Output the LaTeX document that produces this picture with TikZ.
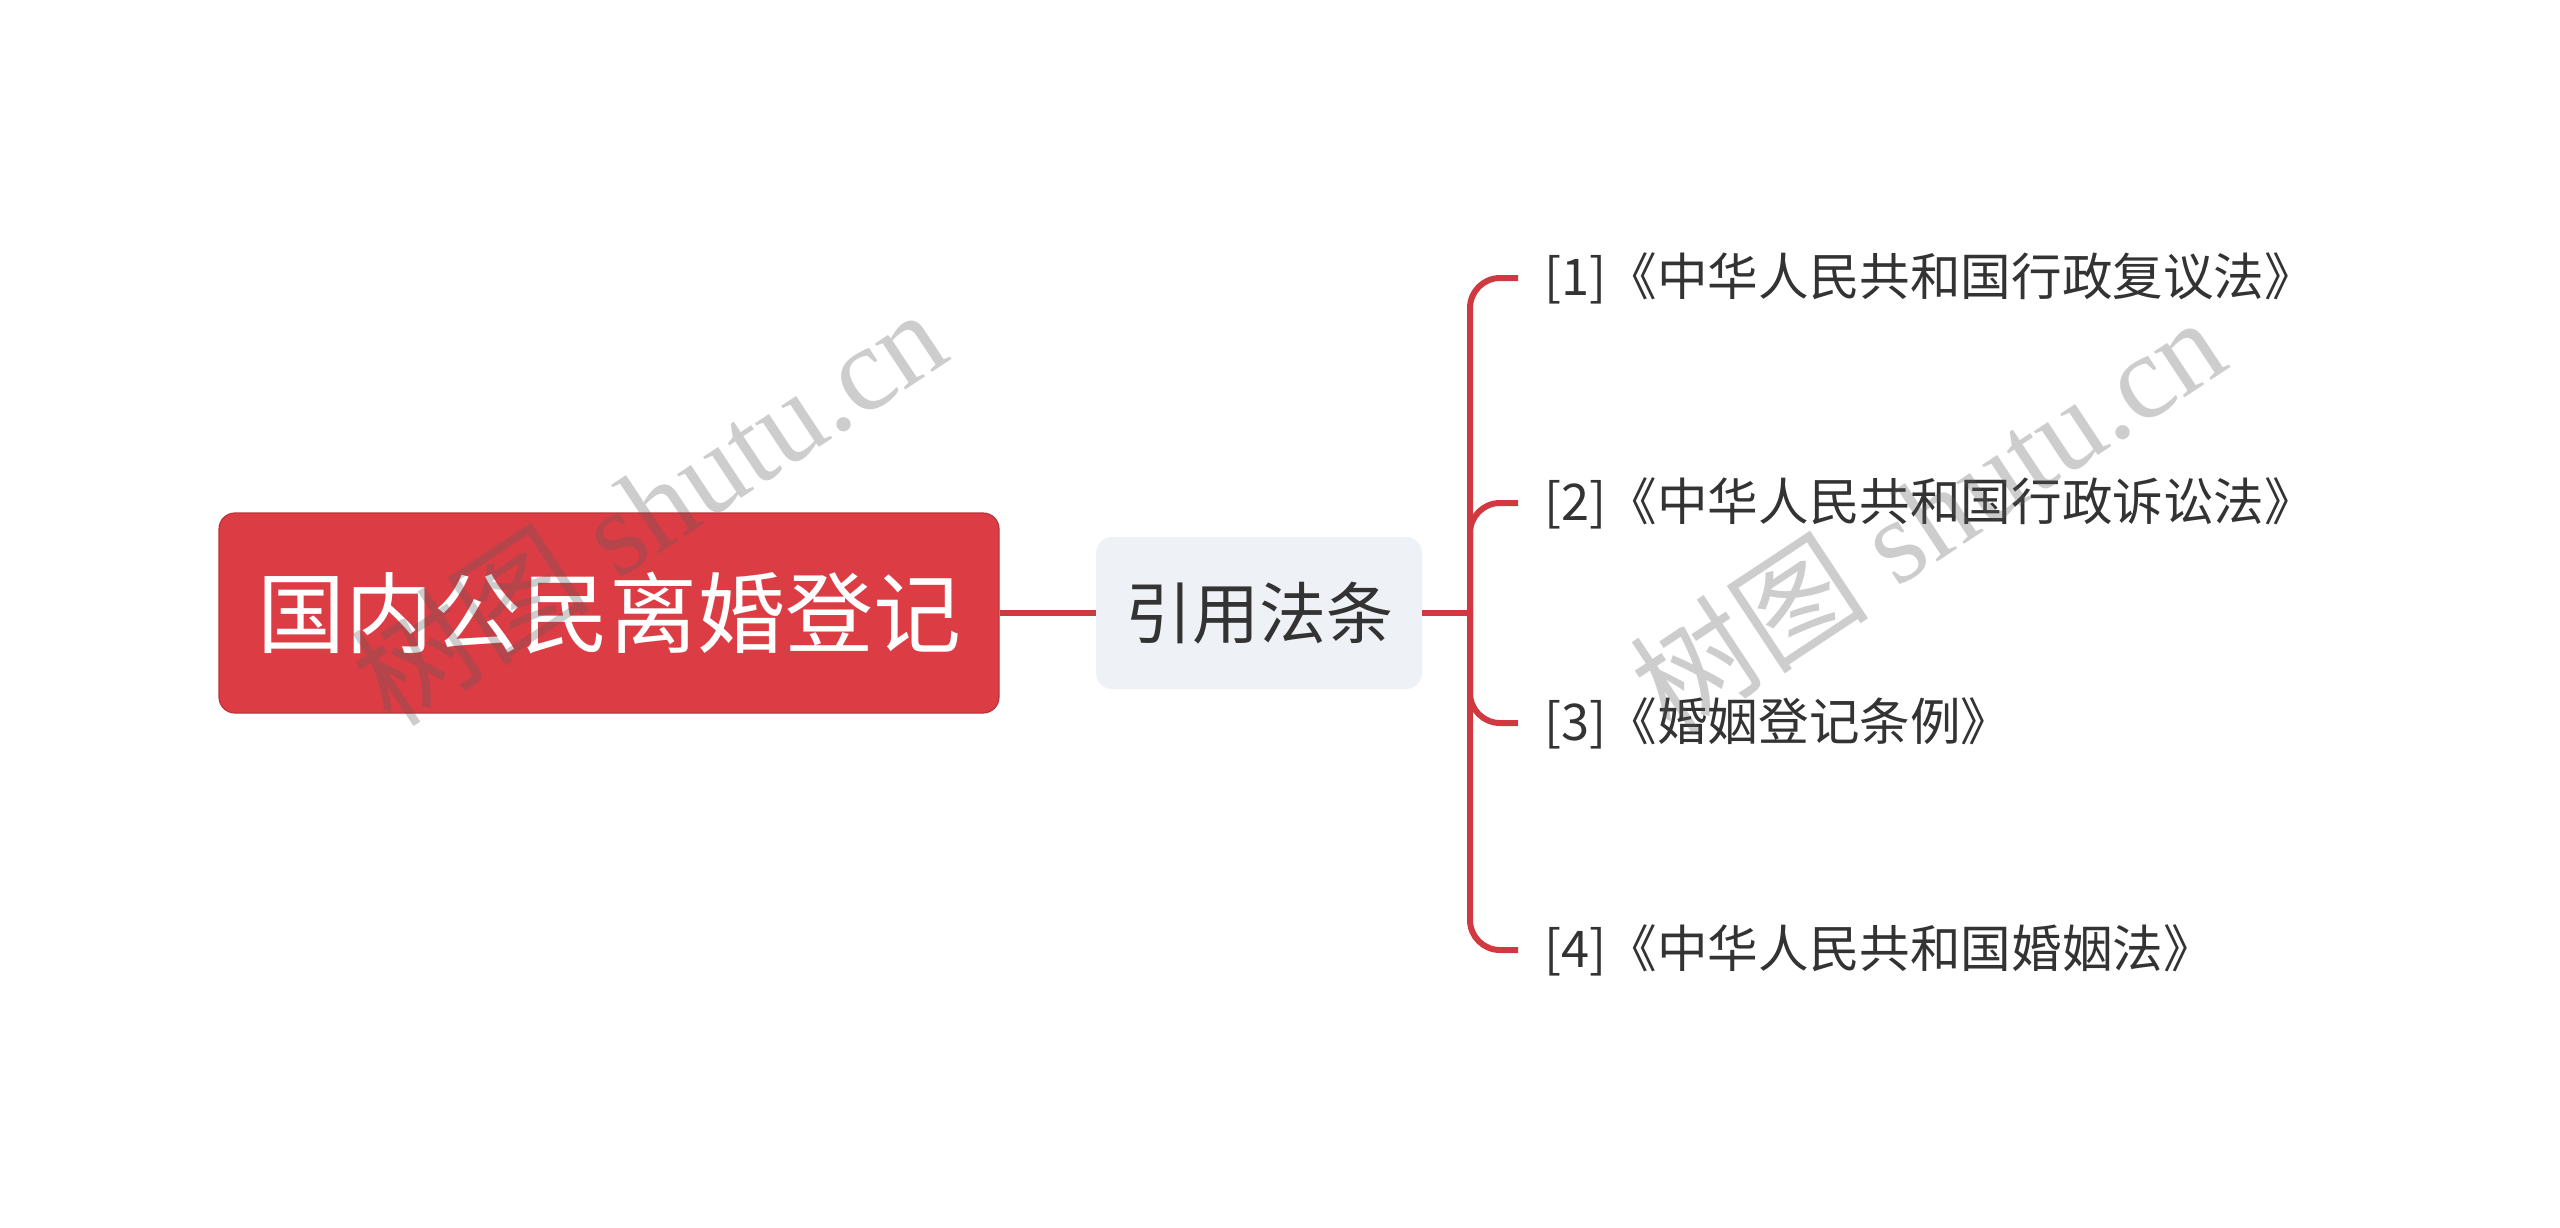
\documentclass[tikz,border=0pt]{standalone}
\usepackage{fontspec}
\setmainfont{Noto Sans CJK SC}
\newfontfamily\wmfont{Liberation Serif}
\usetikzlibrary{positioning}
\definecolor{rootred}{RGB}{220,60,68}
\definecolor{linkred}{RGB}{208,57,64}
\definecolor{midgray}{RGB}{238,241,245}
\definecolor{txtgray}{RGB}{51,51,51}
\definecolor{wmgray}{RGB}{90,90,90}

\begin{document}
\begin{tikzpicture}[x=0.5pt,y=-0.5pt,
    rootbox/.style={rectangle, rounded corners=8pt, fill=rootred, draw=rootred!85!black,
        line width=0.6pt, text=white, font=\fontsize{44}{52}\selectfont,
        minimum width=390pt, minimum height=100pt, inner sep=0pt},
    midbox/.style={rectangle, rounded corners=8pt, fill=midgray, text=txtgray,
        font=\fontsize{33.5}{40}\selectfont, minimum width=163pt, minimum height=76pt, inner sep=0pt},
    leaf/.style={anchor=west, text=txtgray, font=\fontsize{25.3}{31}\selectfont,
        inner xsep=13pt, inner ysep=0pt},
    link/.style={draw=linkred, line width=3pt, rounded corners=15pt},
    wmark/.style={text=wmgray, text opacity=0.3, rotate=33.5, font=\wmfont\fontsize{60}{72}\selectfont}]
    \useasboundingbox (0,0) rectangle (2560,1227);

    % central topics
    \node[rootbox] (root) at (609,613) {国内公民离婚登记};
    \node[midbox] (law) at (1259,613) {引用法条};
    \coordinate (hub) at (1470,613);

    % cited laws
    \node[leaf] (l1) at (1518,278) {[1]《中华人民共和国行政复议法》};
    \node[leaf] (l2) at (1518,503) {[2]《中华人民共和国行政诉讼法》};
    \node[leaf] (l3) at (1518,723) {[3]《婚姻登记条例》};
    \node[leaf] (l4) at (1518,950) {[4]《中华人民共和国婚姻法》};

    \draw[link] (root.east) -- (law.west);
    \draw[link] (law.east) -- (hub);
    \foreach \n in {l1,l2,l3,l4}
        \draw[link] (hub) |- (\n.west);

    % watermarks
    \node[wmark] (wm1) at (648,506) {{\fontspec{Noto Sans CJK SC}树图} shutu.cn};
    \node[wmark] (wm2) at (1927,514) {{\fontspec{Noto Sans CJK SC}树图} shutu.cn};
\end{tikzpicture}
\end{document}
